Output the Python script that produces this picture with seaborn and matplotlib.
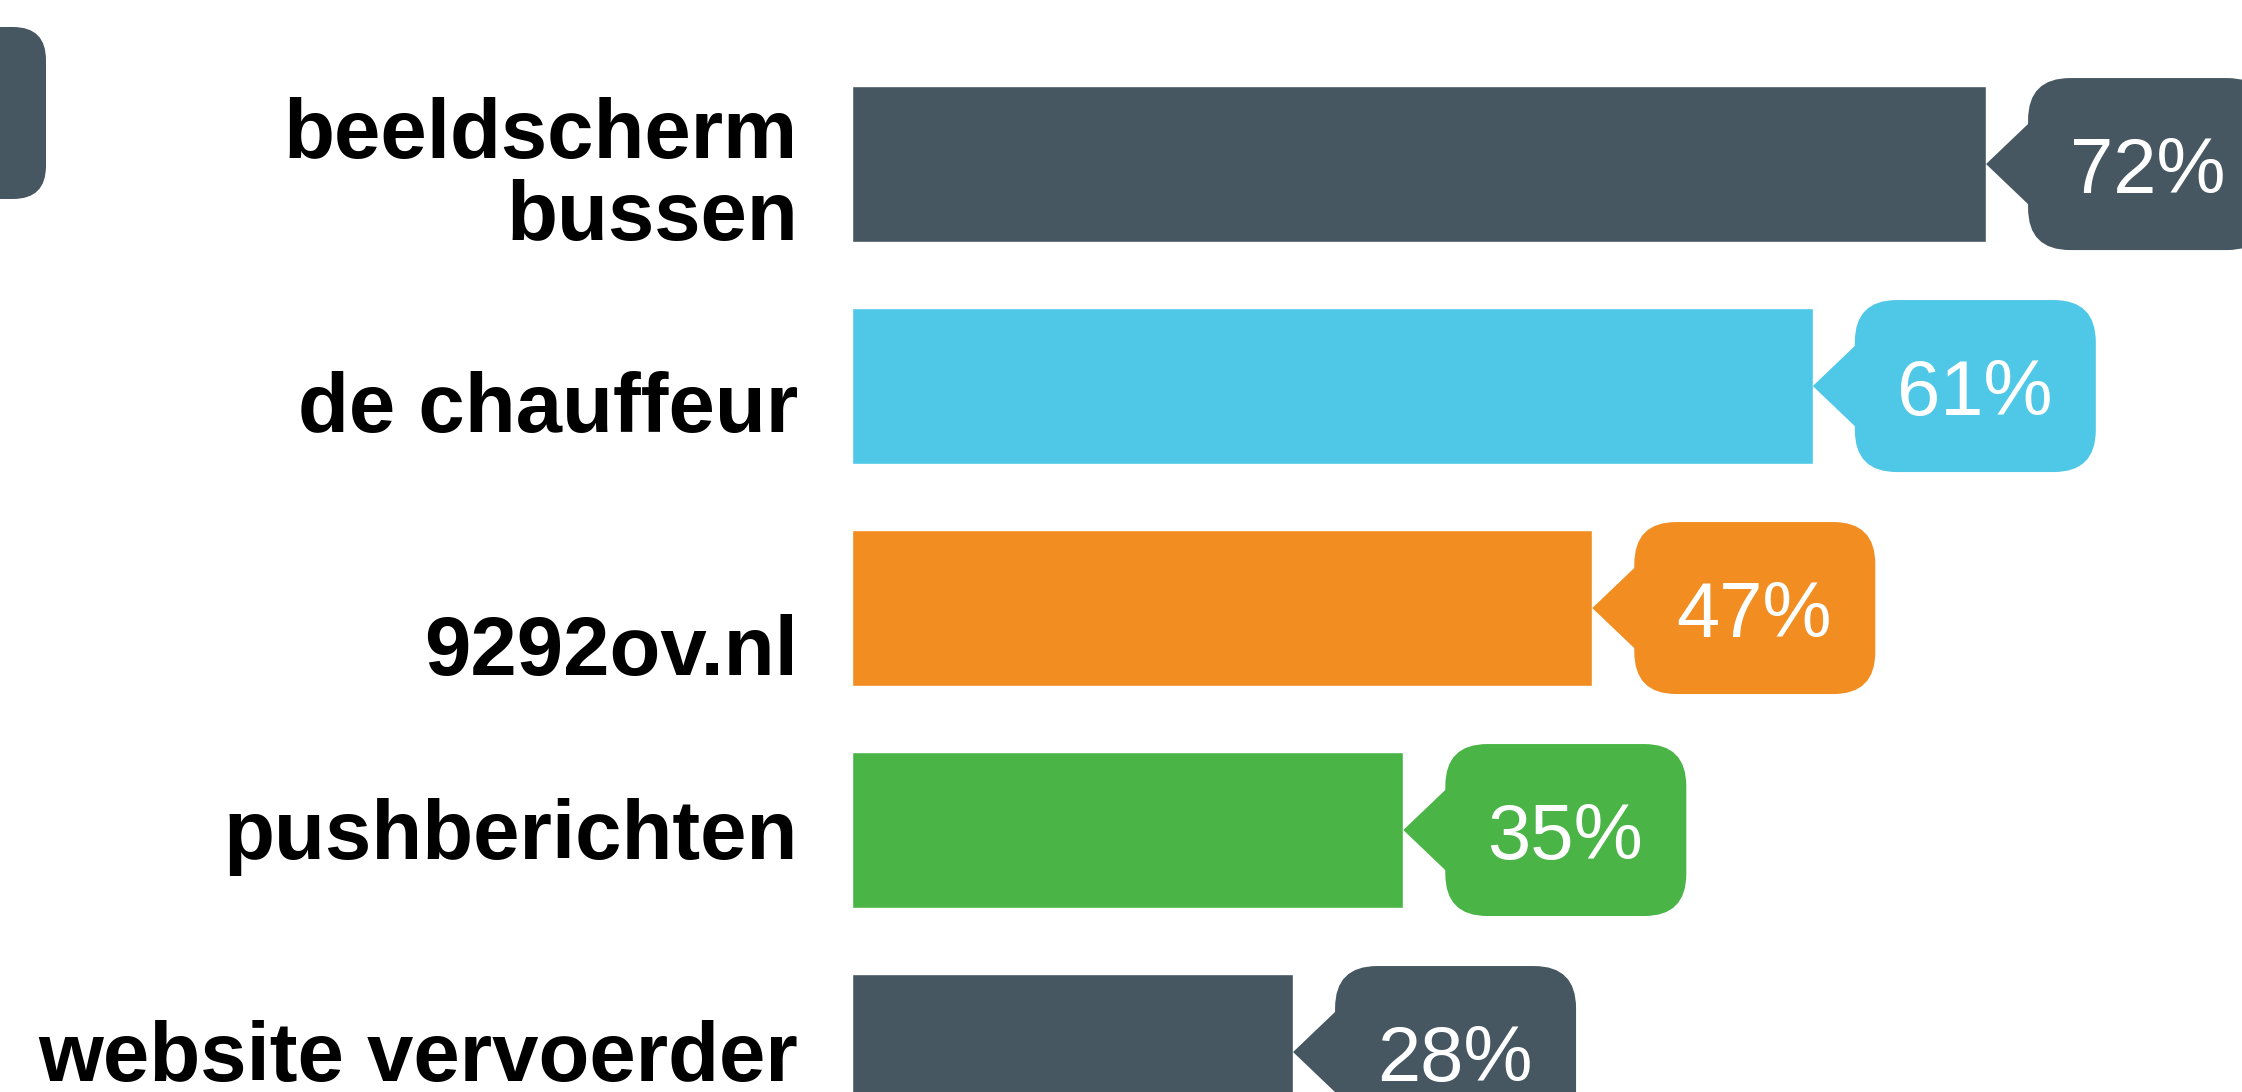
import pandas as pd
import seaborn as sns
import matplotlib.pyplot as plt
import matplotlib.transforms as mtransforms
from matplotlib.patches import FancyBboxPatch, Polygon

# Data
categories = ['beeldscherm\nbussen', 'de chauffeur', '9292ov.nl', 'pushberichten', 'website vervoerder']
values = [72, 61, 47, 35, 28]
value_labels = ['72%', '61%', '47%', '35%', '28%']
bar_colors = ['#465761', '#4fc8e8', '#f18d21', '#4ab546', '#465761']

# baseline shift (last line) of each category label below its bar centre, pixels
label_dy = [76, 46, 67, 29, 29]

df = pd.DataFrame({'medium': categories, 'pct': values})

sns.set_theme(style='white')
plt.rcParams['font.family'] = ['Liberation Sans', 'DejaVu Sans']

fig = plt.figure(figsize=(22.42, 10.92), dpi=100)
ax = fig.add_axes([0, 0, 1, 1])

sns.barplot(data=df, x='pct', y='medium', hue='medium', palette=bar_colors,
            orient='h', width=0.703, saturation=1, legend=False, ax=ax)

# value bubbles with a little arrow pointing at the bar end (sizes in pixels)
for i, (v, lab, col) in enumerate(zip(values, value_labels, bar_colors)):
    anchor = mtransforms.ScaledTranslation(v, i, ax.transData)
    box = FancyBboxPatch((42, -86), 241, 172, boxstyle='round,pad=0,rounding_size=42',
                         fc=col, ec='none', transform=anchor)
    tri = Polygon([(0, 0), (44, -42), (44, 42)], closed=True, fc=col, ec='none',
                  transform=anchor)
    ax.add_patch(box)
    ax.add_patch(tri)
    ax.text(162, -29, lab, transform=anchor, ha='center', va='baseline',
            color='white', fontsize=56)

# category labels
for i, (cat, dy) in enumerate(zip(categories, label_dy)):
    tr = mtransforms.offset_copy(ax.transData, fig, x=-54, y=-dy, units='dots')
    ax.text(0, i, cat, transform=tr, ha='right', va='baseline', fontsize=60,
            fontweight='bold', color='black', linespacing=1.07, multialignment='right')

# partly visible badge at the top left
badge = FancyBboxPatch((-120, 1092 - 199), 166, 172, boxstyle='round,pad=0,rounding_size=33',
                       fc='#465761', ec='none', transform=mtransforms.IdentityTransform())
fig.add_artist(badge)

ax.set_xlim(-54.1, 88.25)
ax.set_ylim(4.18, -0.739)
ax.set_xlabel('')
ax.set_ylabel('')
ax.axis('off')

fig.savefig('out.png', dpi=100)
